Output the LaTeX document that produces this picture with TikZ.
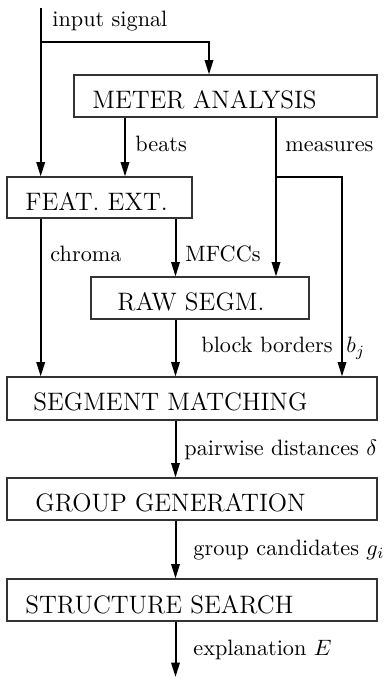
\documentclass[tikz,border=0pt]{standalone}
\usetikzlibrary{arrows.meta,fit}
\begin{document}
\begin{tikzpicture}[x=0.45pt,y=-0.45pt,
  blk/.style={draw=black!80, line width=0.5pt, inner sep=0pt},
  txt/.style={anchor=base west, inner sep=0pt},
  btxt/.style={anchor=base west, inner sep=0pt, font=\fontsize{11.35pt}{13.5pt}\selectfont},
  flow/.style={line width=0.9pt, -{Triangle[length=6.5pt,width=3.8pt]}}]
\useasboundingbox (0,0) rectangle (388,679);
% boxes
\node[blk, fit={(74,75) (377,117)}] (meter) {};
\node[blk, fit={(7,177) (192,218)}] (feat) {};
\node[blk, fit={(91,277) (309,319)}] (raw) {};
\node[blk, fit={(7,377) (377,420)}] (seg) {};
\node[blk, fit={(7,478) (377,520)}] (group) {};
\node[blk, fit={(7,579) (377,621)}] (struct) {};
% box texts
\node[btxt] (tmeter) at (92,108.3) {METER ANALYSIS};
\node[btxt] (tfeat) at (25,210) {FEAT. EXT.};
\node[btxt] (traw) at (117,310) {RAW SEGM.};
\node[btxt] (tseg) at (33,410) {SEGMENT MATCHING};
\node[btxt] (tgroup) at (35,511.7) {GROUP GENERATION};
\node[btxt] (tstruct) at (25,613.3) {STRUCTURE SEARCH};
% coordinates
\coordinate (top) at (40.7,8);
\coordinate (split) at (40.7,42);
\coordinate (mcorner) at (209,42);
\coordinate (bx) at (125,0);
\coordinate (meas) at (276,177);
\coordinate (mcorner2) at (342,177);
\coordinate (cx) at (175.5,0);
\coordinate (out) at (175.5,677);
% connectors
\draw[flow] (top) -- (feat.north -| top);
\draw[flow] (split) -- (mcorner) -- (meter.north -| mcorner);
\draw[flow] (meter.south -| bx) -- (feat.north -| bx);
\draw[flow] (meter.south -| meas) -- (raw.north -| meas);
\draw[flow] (meas) -- (mcorner2) -- (seg.north -| mcorner2);
\draw[flow] (feat.south -| top) -- (seg.north -| top);
\draw[flow] (feat.south -| cx) -- (raw.north -| cx);
\draw[flow] (raw.south -| cx) -- (seg.north -| cx);
\draw[flow] (seg.south -| cx) -- (group.north -| cx);
\draw[flow] (group.south -| cx) -- (struct.north -| cx);
\draw[flow] (struct.south -| cx) -- (out);
% labels
\node[txt] (linput) at (52,26) {input signal};
\node[txt] (lbeats) at (135,151.7) {beats};
\node[txt] (lmeas) at (285,151.7) {measures};
\node[txt] (lchroma) at (50,261) {chroma};
\node[txt] (lmfcc) at (185,261) {MFCCs};
\node[txt] (lblock) at (201,352.7) {block borders};
\node[txt] (lbj) at (346,352.7) {$b_j$};
\node[txt] (lpair) at (184,455) {pairwise distances $\delta$};
\node[txt] (lcand) at (193,555) {group candidates $g_i$};
\node[txt] (lexpl) at (193,655) {explanation $E$};
\end{tikzpicture}
\end{document}
